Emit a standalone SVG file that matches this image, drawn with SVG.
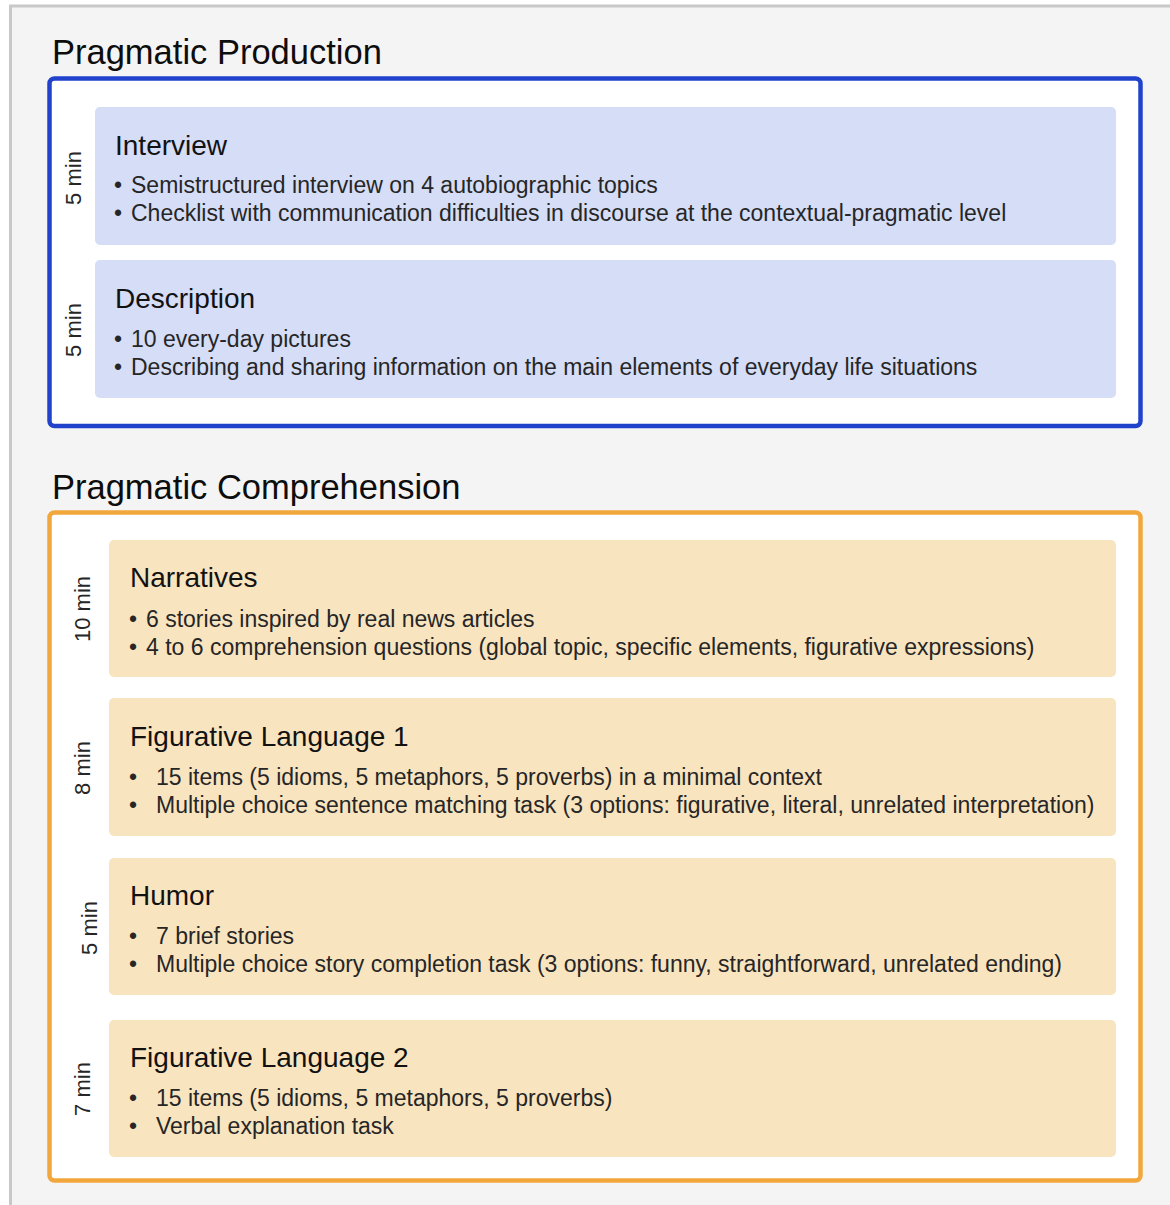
<svg xmlns="http://www.w3.org/2000/svg" width="1170" height="1205" viewBox="0 0 1170 1205">
<style>
  text { font-family: "Liberation Sans", Arial, sans-serif; fill: #1e1e1e; }
  .sec { font-size: 34.5px; fill: #0d0d0d; }
  .ttl { font-size: 28px; fill: #121212; }
  .bul { font-size: 23px; fill: #262626; }
  .time { font-size: 22px; fill: #262626; text-anchor: middle; dominant-baseline: central; }
  .blueBox { fill: #ffffff; stroke: #2143cc; stroke-width: 4.5; }
  .orangeBox { fill: #ffffff; stroke: #f1a73b; stroke-width: 4.5; }
  .blueCard { fill: #d5ddf7; }
  .orangeCard { fill: #f9e4c0; }
</style>
<rect x="0" y="0" width="1170" height="1205" fill="#ffffff"/>
<rect x="10.5" y="6" width="1180" height="1220" fill="#f4f4f4" stroke="#c8c8c8" stroke-width="3"/>

<g id="production">
  <text class="sec" x="52" y="64">Pragmatic Production</text>
  <rect class="blueBox" x="49.5" y="78.5" width="1091" height="347.5" rx="5"/>
</g>

<g id="interview">
  <text class="time" transform="translate(73,178) rotate(-90)">5 min</text>
  <rect class="blueCard" x="95" y="107" width="1021" height="138" rx="5"/>
  <text class="ttl" x="115" y="155">Interview</text>
  <text class="bul" x="114" y="193">•</text>
  <text class="bul" x="131" y="193">Semistructured interview on 4 autobiographic topics</text>
  <text class="bul" x="114" y="221">•</text>
  <text class="bul" x="131" y="221">Checklist with communication difficulties in discourse at the contextual-pragmatic level</text>
</g>

<g id="description">
  <text class="time" transform="translate(73,330) rotate(-90)">5 min</text>
  <rect class="blueCard" x="95" y="260" width="1021" height="138" rx="5"/>
  <text class="ttl" x="115" y="308">Description</text>
  <text class="bul" x="114" y="347">•</text>
  <text class="bul" x="131" y="347">10 every-day pictures</text>
  <text class="bul" x="114" y="375">•</text>
  <text class="bul" x="131" y="375">Describing and sharing information on the main elements of everyday life situations</text>
</g>

<g id="comprehension">
  <text class="sec" x="52" y="499">Pragmatic Comprehension</text>
  <rect class="orangeBox" x="49.5" y="512.5" width="1091" height="668" rx="5"/>
</g>

<g id="narratives">
  <text class="time" transform="translate(82,609) rotate(-90)">10 min</text>
  <rect class="orangeCard" x="109" y="540" width="1007" height="137" rx="5"/>
  <text class="ttl" x="130" y="587">Narratives</text>
  <text class="bul" x="129" y="627">•</text>
  <text class="bul" x="146" y="627">6 stories inspired by real news articles</text>
  <text class="bul" x="129" y="655">•</text>
  <text class="bul" x="146" y="655">4 to 6 comprehension questions (global topic, specific elements, figurative expressions)</text>
</g>

<g id="figurative1">
  <text class="time" transform="translate(82,768) rotate(-90)">8 min</text>
  <rect class="orangeCard" x="109" y="698" width="1007" height="138" rx="5"/>
  <text class="ttl" x="130" y="746">Figurative Language 1</text>
  <text class="bul" x="129" y="785">•</text>
  <text class="bul" x="156" y="785">15 items (5 idioms, 5 metaphors, 5 proverbs) in a minimal context</text>
  <text class="bul" x="129" y="813">•</text>
  <text class="bul" x="156" y="813">Multiple choice sentence matching task (3 options: figurative, literal, unrelated interpretation)</text>
</g>

<g id="humor">
  <text class="time" transform="translate(89,928) rotate(-90)">5 min</text>
  <rect class="orangeCard" x="109" y="858" width="1007" height="137" rx="5"/>
  <text class="ttl" x="130" y="905">Humor</text>
  <text class="bul" x="129" y="944">•</text>
  <text class="bul" x="156" y="944">7 brief stories</text>
  <text class="bul" x="129" y="972">•</text>
  <text class="bul" x="156" y="972">Multiple choice story completion task (3 options: funny, straightforward, unrelated ending)</text>
</g>

<g id="figurative2">
  <text class="time" transform="translate(82,1089) rotate(-90)">7 min</text>
  <rect class="orangeCard" x="109" y="1020" width="1007" height="137" rx="5"/>
  <text class="ttl" x="130" y="1067">Figurative Language 2</text>
  <text class="bul" x="129" y="1106">•</text>
  <text class="bul" x="156" y="1106">15 items (5 idioms, 5 metaphors, 5 proverbs)</text>
  <text class="bul" x="129" y="1134">•</text>
  <text class="bul" x="156" y="1134">Verbal explanation task</text>
</g>

<g id="connectors"></g>
</svg>
